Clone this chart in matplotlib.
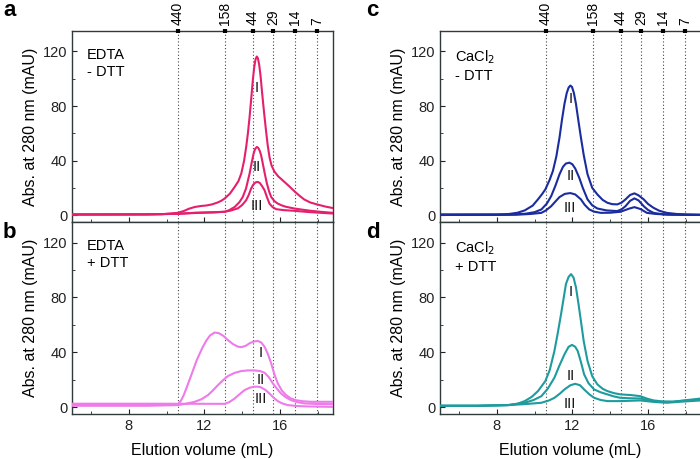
import numpy as np
import matplotlib
matplotlib.use('Agg')
import matplotlib.pyplot as plt

plt.rcParams['font.family'] = ['Liberation Sans', 'DejaVu Sans']

# marker proteins (kDa) and their elution volumes (mL)
mw_labels = ['440', '158', '44', '29', '14', '7']
mw_pos = [10.58, 13.07, 14.56, 15.65, 16.8, 17.98]

# a: EDTA - DTT
a_I_x = [5.0, 7.0, 9.0, 9.74, 10.58, 10.9, 11.2, 11.49, 11.8, 12.1, 12.4, 12.7, 12.9, 13.07, 13.35, 13.6, 13.8, 13.95, 14.1, 14.21, 14.3, 14.39, 14.48, 14.56, 14.63, 14.7, 14.77, 14.83, 14.9, 14.97, 15.05, 15.15, 15.25, 15.35, 15.45, 15.55, 15.7, 15.9, 16.23, 16.5, 16.8, 17.05, 17.28, 17.6, 17.98, 18.4, 18.8]
a_I_y = [0.5, 0.5, 0.6, 0.7, 1.7, 3.0, 4.8, 6.0, 6.7, 7.1, 7.9, 9.3, 10.6, 12.2, 15.8, 20.7, 25, 30.5, 40, 50, 60, 72, 86, 98.8, 108, 114, 116.3, 115, 110, 102, 90, 76, 63, 51, 42, 36.5, 32, 28.5, 24.4, 21, 17, 14, 11.5, 9.3, 7.8, 6.3, 5.2]
a_II_x = [5.0, 9.0, 10.6, 11.5, 12.5, 13.07, 13.3, 13.6, 13.85, 14.03, 14.2, 14.39, 14.5, 14.6, 14.68, 14.77, 14.85, 14.93, 15.0, 15.1, 15.2, 15.3, 15.42, 15.53, 15.7, 15.88, 16.1, 16.3, 16.75, 17.2, 17.63, 18.2, 18.8]
a_II_y = [0.5, 0.6, 1.0, 1.8, 2.2, 2.5, 3.6, 6.0, 9.5, 13.4, 19.5, 30.5, 38.5, 45, 48.5, 50, 49.3, 47, 43.9, 37, 30, 23.5, 17.5, 13.4, 10.3, 8.5, 7.1, 6.2, 4.9, 4.0, 3.2, 2.4, 1.7]
a_III_x = [5.0, 9.0, 10.6, 11.5, 12.5, 13.07, 13.4, 13.77, 14.0, 14.21, 14.35, 14.47, 14.58, 14.7, 14.82, 14.93, 15.05, 15.18, 15.3, 15.44, 15.6, 15.79, 16.2, 16.75, 17.5, 18.8]
a_III_y = [0.5, 0.6, 1.0, 1.6, 2.0, 2.5, 3.4, 5.0, 7.5, 11, 15, 19.5, 22.3, 24, 24.4, 23.6, 21.3, 18.3, 13.5, 8.5, 6, 4.4, 3.7, 3.2, 2.3, 1.2]

# b: EDTA + DTT
b_I_x = [5.0, 9.0, 10.6, 10.75, 10.9, 11.08, 11.35, 11.6, 11.9, 12.1, 12.3, 12.54, 12.75, 13.0, 13.25, 13.51, 13.75, 13.95, 14.2, 14.39, 14.6, 14.82, 15.0, 15.18, 15.35, 15.53, 15.7, 15.88, 16.1, 16.32, 16.55, 16.84, 17.2, 17.63, 18.8]
b_I_y = [2.0, 2.0, 2.2, 4.5, 8.5, 14.9, 25, 34.4, 43.5, 48.5, 52.3, 54.4, 54.0, 52.0, 48.8, 46, 44.2, 43.7, 44.8, 46.6, 47.8, 48.3, 47.2, 44.1, 39, 32, 24, 17.3, 12, 8.8, 6.5, 5.1, 4.3, 3.9, 3.9]
b_II_x = [5.0, 9.0, 10.6, 11.0, 11.49, 11.85, 12.19, 12.45, 12.72, 13.0, 13.25, 13.6, 13.95, 14.3, 14.65, 14.95, 15.18, 15.4, 15.62, 15.85, 16.05, 16.3, 16.58, 16.9, 17.28, 18.0, 18.8]
b_II_y = [1.0, 1.0, 1.5, 2.4, 3.9, 5.8, 8.8, 12.2, 16.1, 19.8, 22.7, 25.0, 26.3, 26.8, 26.8, 26.3, 25.1, 22, 17.3, 13.2, 10, 7.2, 5.1, 3.7, 2.7, 2.3, 2.2]
b_III_x = [5.0, 9.0, 13.07, 13.3, 13.6, 13.85, 14.12, 14.4, 14.65, 14.85, 15.0, 15.22, 15.44, 15.65, 15.88, 16.1, 16.4, 16.9, 17.5, 18.8]
b_III_y = [2.5, 2.5, 2.4, 3.5, 6.3, 9.3, 12.4, 14.2, 14.9, 14.9, 14.4, 12.6, 10, 7, 4.4, 2.8, 1.5, 0.8, 0.5, 0.2]

# c: CaCl2 - DTT
c_I_x = [5.0, 8.0, 8.61, 9.1, 9.48, 9.9, 10.18, 10.4, 10.57, 10.8, 10.97, 11.15, 11.32, 11.45, 11.58, 11.7, 11.8, 11.89, 11.98, 12.08, 12.19, 12.32, 12.45, 12.6, 12.8, 13.05, 13.32, 13.6, 13.85, 14.1, 14.37, 14.6, 14.81, 15.05, 15.28, 15.5, 15.77, 16.0, 16.29, 16.6, 16.99, 17.5, 18.04, 18.8]
c_I_y = [0.5, 0.5, 0.8, 1.8, 3.5, 7, 11.6, 15.5, 18.9, 26, 32.4, 43, 57, 70, 81.5, 89.5, 93.5, 95, 94, 89.5, 81.5, 69, 57, 44, 30, 20, 15.2, 11.2, 9.1, 8.1, 7.9, 9.2, 11.6, 14.8, 16, 14.5, 11.6, 8.2, 5.4, 3.2, 1.7, 0.9, 0.5, 0.3]
c_II_x = [5.0, 8.5, 9.48, 10.0, 10.36, 10.65, 10.88, 11.1, 11.32, 11.5, 11.65, 11.84, 12.0, 12.15, 12.36, 12.55, 12.8, 13.05, 13.32, 13.8, 14.37, 14.6, 14.81, 15.05, 15.28, 15.5, 15.77, 16.0, 16.29, 16.8, 17.3, 18.8]
c_II_y = [0.3, 0.4, 1.0, 2.2, 4.2, 8.5, 14, 21.5, 30, 35.4, 37.8, 38.5, 37.3, 34.2, 27.5, 20, 11.6, 7.2, 4.9, 3.5, 3.0, 4.3, 6.6, 10.5, 12.3, 10.8, 6.6, 3.8, 1.7, 0.6, 0.3, 0.2]
c_III_x = [5.0, 9.0, 9.8, 10.36, 10.6, 10.88, 11.1, 11.32, 11.6, 11.89, 12.15, 12.45, 12.65, 12.89, 13.15, 13.5, 14.0, 14.54, 14.8, 15.0, 15.28, 15.6, 15.94, 16.4, 16.99, 18.8]
c_III_y = [0.2, 0.3, 0.9, 1.7, 3.5, 6.6, 10, 13.3, 15.6, 16.2, 15.2, 11.6, 7.6, 4.2, 2.6, 1.7, 1.8, 2.5, 3.8, 4.8, 5.9, 4.5, 1.7, 0.9, 0.5, 0.2]

# d: CaCl2 + DTT
d_I_x = [5.0, 7.0, 8.61, 9.1, 9.48, 9.85, 10.18, 10.57, 10.8, 11.05, 11.22, 11.4, 11.55, 11.66, 11.8, 11.93, 12.06, 12.19, 12.32, 12.45, 12.6, 12.8, 13.05, 13.32, 13.6, 13.85, 14.2, 14.54, 15.1, 15.59, 15.95, 16.29, 16.8, 17.3, 17.9, 18.8]
d_I_y = [1.0, 1.0, 1.5, 2.5, 4.4, 7.5, 11.7, 19, 27, 41, 53.5, 67.8, 80.5, 89.8, 95, 97, 94.5, 87.3, 75.5, 62.9, 48, 33.7, 22.5, 16.6, 13.4, 11.7, 10.2, 9.3, 8.8, 8, 6.2, 4.9, 4.1, 3.9, 4.9, 6.3]
d_II_x = [5.0, 7.0, 8.61, 9.48, 9.95, 10.36, 10.7, 11.05, 11.32, 11.58, 11.8, 11.98, 12.15, 12.28, 12.45, 12.62, 12.85, 13.15, 13.5, 13.85, 14.2, 14.54, 15.0, 15.59, 16.1, 16.64, 17.3, 18.0, 18.8]
d_II_y = [1.0, 1.0, 1.5, 3.2, 5.2, 8, 13.5, 21.5, 30.5, 38.5, 44, 45.4, 44, 41, 33, 23.9, 17.5, 12.9, 10.8, 9.3, 7.8, 6.8, 6.5, 6.3, 4.8, 3.9, 4.0, 4.8, 5.6]
d_III_x = [5.0, 7.0, 8.61, 9.48, 10.36, 10.75, 11.05, 11.35, 11.58, 11.9, 12.15, 12.4, 12.62, 12.9, 13.15, 13.5, 13.85, 14.6, 15.59, 16.3, 16.99, 17.8, 18.8]
d_III_y = [1.0, 1.0, 1.5, 2.2, 3.2, 4.8, 6.8, 10, 12.9, 16, 17, 16, 12.9, 9.3, 6.8, 5.2, 4.4, 4.4, 4.9, 3.8, 3.2, 4.0, 4.9]

fig = plt.figure(figsize=(7, 4.59), dpi=100)
W, H = 700.0, 459.0

def px_axes(x0, y0, w, h):
    return fig.add_axes([x0 / W, 1 - (y0 + h) / H, w / W, h / H])

spine_col = '#2f3a3a'

def style(ax, bottom, condition):
    ax.set_xlim(5, 18.8)
    ax.set_ylim(-5, 135)
    ax.set_yticks([0, 40, 80, 120])
    ax.set_yticks([20, 60, 100], minor=True)
    ax.set_xticks([8, 12, 16])
    ax.set_xticks([6, 10, 14, 18], minor=True)
    ax.tick_params(direction='in', which='both', labelsize=10.5, colors='#222222')
    ax.tick_params(which='major', length=3.5)
    ax.tick_params(which='minor', length=2)
    for s in ax.spines.values():
        s.set_color(spine_col)
        s.set_linewidth(1.0)
    if not bottom:
        ax.tick_params(labelbottom=False)
    else:
        ax.set_xlabel('Elution volume (mL)', fontsize=11.5, labelpad=7)
    ax.set_ylabel('Abs. at 280 nm (mAU)', fontsize=11.5, labelpad=3)
    for p in mw_pos:
        ax.axvline(p, color='#444444', linestyle=(0, (1, 2)), linewidth=0.8, zorder=1)
    ax.text(0.057, 0.91, condition, transform=ax.transAxes, fontsize=10.5,
            va='top', ha='left', linespacing=1.25)

def top_markers(ax):
    t = ax.twiny()
    t.set_xlim(ax.get_xlim())
    t.set_xticks(mw_pos)
    t.set_xticklabels(mw_labels, rotation=90, fontsize=10)
    t.tick_params(direction='inout', length=3, width=3, pad=2.5, color='black')
    for s in t.spines.values():
        s.set_visible(False)

def curves(ax, color, data, labels):
    for x, y in data:
        ax.plot(x, y, color=color, linewidth=1.5, zorder=3, solid_joinstyle='round')
    for (lx, ly, txt) in labels:
        ax.text(lx, ly, txt, ha='center', va='center', fontsize=10.5, color='#111111', zorder=4)

col_a = '#E4206E'
col_b = '#EE7BEA'
col_c = '#1A2C9E'
col_d = '#1F9B9E'

ax_a = px_axes(72, 31, 261, 191)
ax_b = px_axes(72, 222, 261, 192)
ax_c = px_axes(440, 31, 261, 191)
ax_d = px_axes(440, 222, 261, 192)

style(ax_a, False, 'EDTA\n- DTT')
style(ax_b, True, 'EDTA\n+ DTT')
style(ax_c, False, 'CaCl$_2$\n- DTT')
style(ax_d, True, 'CaCl$_2$\n+ DTT')

curves(ax_a, col_a, [(a_I_x, a_I_y), (a_II_x, a_II_y), (a_III_x, a_III_y)],
       [(14.77, 93, 'I'), (14.77, 35, 'II'), (14.79, 7, 'III')])
curves(ax_b, col_b, [(b_I_x, b_I_y), (b_II_x, b_II_y), (b_III_x, b_III_y)],
       [(14.97, 39.7, 'I'), (14.97, 19.7, 'II'), (14.97, 6.3, 'III')])
curves(ax_c, col_c, [(c_I_x, c_I_y), (c_II_x, c_II_y), (c_III_x, c_III_y)],
       [(11.89, 85, 'I'), (11.89, 28.7, 'II'), (11.89, 5.4, 'III')])
curves(ax_d, col_d, [(d_I_x, d_I_y), (d_II_x, d_II_y), (d_III_x, d_III_y)],
       [(11.89, 83.6, 'I'), (11.89, 22.7, 'II'), (11.89, 2.4, 'III')])

top_markers(ax_a)
top_markers(ax_c)

for lab, x, y in [('a', 3, 10), ('b', 3, 232), ('c', 366, 10), ('d', 366, 232)]:
    fig.text(x / W, 1 - y / H, lab, fontsize=16, fontweight='bold', va='center', ha='left')

plt.savefig('out.png', dpi=100)
